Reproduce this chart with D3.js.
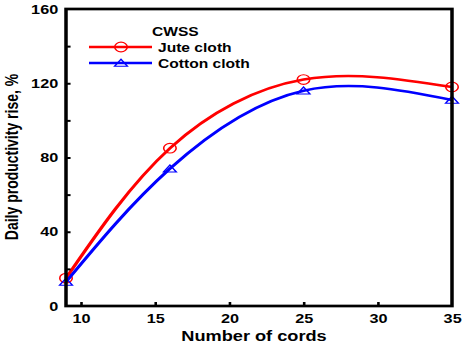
<!DOCTYPE html>
<html>
<head>
<meta charset="utf-8">
<script src="https://cdn.jsdelivr.net/npm/d3@7"></script>
<style>
  body { margin: 0; background: #fff; }
  text { font-family: "Liberation Sans", Arial, sans-serif; font-weight: bold; }
</style>
</head>
<body>
<div id="chart"></div>
<script>
// data
const cords = [9, 16, 25, 35]
const juteCloth = [15, 85, 122, 118]
const cottonCloth = [13, 74, 116, 111]
const xTicks = [10, 15, 20, 25, 30, 35]
const xMinorTicks = [10, 15, 20, 25, 30]
const yTicks = [0, 40, 80, 120, 160]
const yMinorTicks = [20, 40, 60, 80, 100, 120, 140]

const series = [
    { name: 'Jute cloth', values: juteCloth, color: '#ff0000', marker: 'circle' },
    { name: 'Cotton cloth', values: cottonCloth, color: '#0000ff', marker: 'triangle' },
]

// the original figure is stretched sideways, so draw in narrower units and scale x
const stretch = 1.3

let dimensions = {
    width: 465,
    height: 351,
    margin: { top: 9, right: 13, bottom: 45, left: 66 },
}
dimensions.innerWidth = (dimensions.width - dimensions.margin.left - dimensions.margin.right) / stretch
dimensions.innerHeight = dimensions.height - dimensions.margin.top - dimensions.margin.bottom

const outer = d3.select('#chart')
    .append('svg')
    .attr('width', dimensions.width)
    .attr('height', dimensions.height)

const root = outer.append('g')
    .attr('transform', `scale(${stretch},1)`)

const inner = root.append('g')
    .attr('transform', `translate(${dimensions.margin.left / stretch},${dimensions.margin.top})`)

const xScale = d3.scaleLinear()
    .domain([9, 35])
    .range([0, dimensions.innerWidth])

const yScale = d3.scaleLinear()
    .domain([0, 160])
    .range([dimensions.innerHeight, 0])

// curves
const lineGen = d3.line()
    .x((d, i) => xScale(cords[i]))
    .y(d => yScale(d))
    .curve(d3.curveNatural)

const triangle = d3.symbol().type(d3.symbolTriangle).size(42)

function drawMarker(g, s, x, y) {
    if (s.marker === 'circle') {
        g.append('circle')
            .attr('cx', x)
            .attr('cy', y)
            .attr('r', 4.8)
            .attr('fill', 'none')
            .attr('stroke', s.color)
            .attr('stroke-width', 1.2)
    } else {
        g.append('path')
            .attr('d', triangle())
            .attr('transform', `translate(${x},${y + 1}) scale(1,0.82)`)
            .attr('fill', 'none')
            .attr('stroke', s.color)
            .attr('stroke-width', 1.3)
    }
}

series.forEach(s => {
    inner.append('path')
        .attr('d', lineGen(s.values))
        .attr('fill', 'none')
        .attr('stroke', s.color)
        .attr('stroke-width', 2.6)

    s.values.forEach((v, i) => drawMarker(inner, s, xScale(cords[i]), yScale(v)))
})

// axes
const xAxisGroup = inner.append('g')
    .attr('transform', `translate(0,${dimensions.innerHeight})`)
    .call(d3.axisBottom(xScale).tickValues(xTicks).tickSize(0).tickPadding(8))

inner.append('g')
    .attr('transform', `translate(0,${dimensions.innerHeight})`)
    .call(d3.axisBottom(xScale).tickValues(xMinorTicks).tickSize(-4).tickFormat(''))
    .call(g => g.select('.domain').remove())

const yAxisGroup = inner.append('g')
    .call(d3.axisLeft(yScale).tickValues(yTicks).tickSize(0).tickPadding(6))

inner.append('g')
    .call(d3.axisLeft(yScale).tickValues(yMinorTicks).tickSize(-3.5).tickFormat(''))
    .call(g => g.select('.domain').remove())

inner.selectAll('.tick line').attr('stroke', '#000').attr('stroke-width', 2)
inner.selectAll('.tick text').attr('font-size', 12.5).attr('fill', '#000')
xAxisGroup.select('.domain').remove()
yAxisGroup.select('.domain').remove()

// frame
inner.append('rect')
    .attr('width', dimensions.innerWidth)
    .attr('height', dimensions.innerHeight)
    .attr('fill', 'none')
    .attr('stroke', '#000')
    .attr('stroke-width', 2.7)

// axis titles
root.append('text')
    .attr('x', 254 / stretch)
    .attr('y', 341)
    .attr('text-anchor', 'middle')
    .attr('font-size', 14)
    .text('Number of cords')

root.append('text')
    .attr('transform', `translate(${18 / stretch},157) rotate(-90)`)
    .attr('text-anchor', 'middle')
    .attr('font-size', 14)
    .text('Daily productivity rise, %')

// legend
const legend = root.append('g').attr('transform', `translate(${89 / stretch},0)`)
legend.append('text')
    .attr('x', 63 / stretch)
    .attr('y', 36.5)
    .attr('font-size', 12)
    .text('CWSS')

series.forEach((s, i) => {
    const g = legend.append('g').attr('transform', `translate(0,${47 + i * 16})`)
    g.append('line')
        .attr('x1', 0)
        .attr('x2', 63 / stretch)
        .attr('stroke', s.color)
        .attr('stroke-width', 2.6)
    drawMarker(g, s, 32 / stretch, 0)
    g.append('text')
        .attr('x', 69 / stretch)
        .attr('y', 4.5)
        .attr('font-size', 12)
        .text(s.name)
})
</script>
</body>
</html>
